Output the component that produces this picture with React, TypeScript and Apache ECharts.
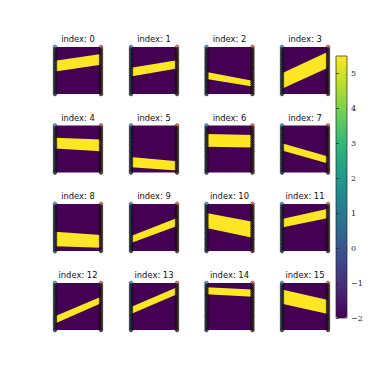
import React, { useEffect, useRef } from "react";
import * as echarts from "echarts";

// ---- data ----
const panelTitles = [
  "index: 0", "index: 1", "index: 2", "index: 3",
  "index: 4", "index: 5", "index: 6", "index: 7",
  "index: 8", "index: 9", "index: 10", "index: 11",
  "index: 12", "index: 13", "index: 14", "index: 15",
];
// band edges as fraction of panel height from the top
const bandLeftTop = [0.29, 0.44, 0.53, 0.56, 0.26, 0.67, 0.18, 0.38, 0.59, 0.68, 0.19, 0.32, 0.71, 0.51, 0.09, 0.14];
const bandLeftBottom = [0.52, 0.63, 0.68, 0.89, 0.49, 0.89, 0.45, 0.53, 0.90, 0.83, 0.51, 0.50, 0.86, 0.66, 0.24, 0.44];
const bandRightTop = [0.15, 0.28, 0.72, 0.10, 0.30, 0.76, 0.20, 0.66, 0.66, 0.30, 0.38, 0.10, 0.29, 0.09, 0.14, 0.36];
const bandRightBottom = [0.38, 0.46, 0.84, 0.44, 0.55, 0.96, 0.47, 0.81, 0.93, 0.47, 0.72, 0.30, 0.43, 0.24, 0.29, 0.66];
const bandValue = 5.5;
const backgroundValue = -2;
const dotPositions = [0, 0.05, 0.1, 0.15, 0.2, 0.25, 0.3, 0.35, 0.4, 0.45, 0.5, 0.55, 0.6, 0.65, 0.7, 0.75, 0.8, 0.85, 0.9, 0.95, 1];
const colorbarMin = -2;
const colorbarMax = 5.5;

const viridis = ["#440154", "#482878", "#3e4989", "#31688e", "#26828e", "#1f9e89", "#35b779", "#6ece58", "#b5de2b", "#fde725"];

// ---- layout ----
const colLefts = [55, 131, 206.5, 282];
const rowTops = [47, 125.5, 204, 283];
const panelW = 46;
const panelH = 47;

export default function App() {
  const ref = useRef<HTMLDivElement>(null);
  useEffect(() => {
    if (!ref.current) return;
    const chart = echarts.init(ref.current, undefined, { renderer: "svg" });
    const grids: any[] = [];
    const xAxes: any[] = [];
    const yAxes: any[] = [];
    const series: any[] = [];
    const graphics: any[] = [];
    panelTitles.forEach((t, i) => {
      const r = Math.floor(i / 4);
      const c = i % 4;
      grids.push({ left: colLefts[c], top: rowTops[r], width: panelW, height: panelH });
      xAxes.push({ type: "value", gridIndex: i, min: 0, max: 1, show: false });
      yAxes.push({ type: "value", gridIndex: i, min: 0, max: 1, inverse: true, show: false });
      series.push({
        type: "custom",
        xAxisIndex: i,
        yAxisIndex: i,
        clip: false,
        z: 1,
        data: [[bandLeftTop[i], bandLeftBottom[i], bandRightTop[i], bandRightBottom[i], bandValue, backgroundValue]],
        renderItem: (params: any, api: any) => {
          const lt = api.value(0), lb = api.value(1), rt = api.value(2), rb = api.value(3);
          const p = (x: number, y: number) => api.coord([x, y]);
          const tl = p(0, 0);
          const br = p(1, 1);
          const col = api.visual("color") || viridis[viridis.length - 1];
          return {
            type: "group",
            children: [
              { type: "rect", shape: { x: tl[0], y: tl[1], width: br[0] - tl[0], height: br[1] - tl[1] }, style: { fill: viridis[0] } },
              { type: "polygon", shape: { points: [p(0, lt), p(1, rt), p(1, rb), p(0, lb)] }, style: { fill: col } },
            ],
          };
        },
      });
      const dots: any[] = [];
      dotPositions.forEach((y, k) => {
        dots.push({ value: [0, y], itemStyle: { color: k === 0 ? "#4a8fd8" : "#1a2838", borderColor: "#000", borderWidth: 0.5 } });
        dots.push({ value: [1, y], itemStyle: { color: k === 0 ? "#e0604f" : "#301818", borderColor: "#000", borderWidth: 0.5 } });
      });
      series.push({
        type: "scatter",
        xAxisIndex: i,
        yAxisIndex: i,
        clip: false,
        z: 3,
        symbolSize: 3.8,
        silent: true,
        data: dots,
      });
      graphics.push({
        type: "text",
        x: colLefts[c] + panelW / 2,
        y: rowTops[r] - 4,
        style: {
          text: t,
          align: "center",
          verticalAlign: "bottom",
          textAlign: "center",
          textVerticalAlign: "bottom",
          fontFamily: "DejaVu Sans",
          fontSize: 8.4,
          fill: "#111",
        },
      });
    });
    // colorbar axis
    const cbIndex = panelTitles.length;
    grids.push({
      left: 336, top: 56, width: 11, height: 262,
      show: true, borderColor: "#222", borderWidth: 0.7, backgroundColor: "transparent", z: 10,
    });
    xAxes.push({ type: "value", gridIndex: cbIndex, show: false, min: 0, max: 1 });
    yAxes.push({
      type: "value", gridIndex: cbIndex, position: "right",
      min: colorbarMin, max: colorbarMax, interval: 1, z: 10,
      axisLine: { show: false },
      splitLine: { show: false },
      axisTick: { show: true, length: 3, lineStyle: { color: "#222", width: 0.7 } },
      axisLabel: {
        showMaxLabel: false,
        margin: 4,
        fontFamily: "DejaVu Serif",
        fontSize: 8,
        color: "#222",
        formatter: (v: number) => (v < 0 ? "\u2212" + Math.abs(v) : String(v)),
      },
    });
    chart.setOption({
      animation: false,
      backgroundColor: "#ffffff",
      grid: grids,
      xAxis: xAxes,
      yAxis: yAxes,
      visualMap: {
        type: "continuous",
        min: colorbarMin,
        max: colorbarMax,
        dimension: 4,
        seriesIndex: series.map((s, k) => (s.type === "custom" ? k : -1)).filter((k) => k >= 0),
        inRange: { color: viridis },
        left: 336,
        top: 56,
        itemWidth: 11,
        itemHeight: 262,
        padding: 0,
        calculable: false,
        text: undefined,
        showLabel: false,
      },
      series,
      graphic: graphics,
    });
    return () => chart.dispose();
  }, []);
  return <div ref={ref} style={{ position: "fixed", left: 0, top: 0, width: 374, height: 374 }} />;
}
